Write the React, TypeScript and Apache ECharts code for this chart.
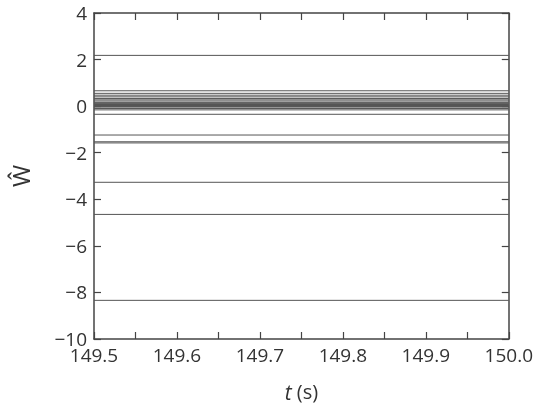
import React, { useEffect, useRef } from "react";
import * as echarts from "echarts";

const tStart = 149.5;
const tEnd = 150.0;
const yTicks = [-10, -8, -6, -4, -2, 0, 2, 4];
const wValues = [
  2.18, 0.66, 0.55, 0.47, 0.4, 0.33, 0.27, 0.22, 0.16, 0.11, 0.07, 0.05, 0.03,
  0.01, 0.0, -0.02, -0.04, -0.1, -0.16, -0.35, -1.24, -1.53, -1.58, -3.27,
  -4.65, -8.34,
];

const FONT = "Open Sans";

export default function App() {
  const ref = useRef<HTMLDivElement>(null);
  useEffect(() => {
    if (!ref.current) return;
    const chart = echarts.init(ref.current, null, { renderer: "svg" });
    const axisLine = { show: true, onZero: false, lineStyle: { color: "#444", width: 1.5 } };
    const tick = { show: true, inside: true, length: 7, lineStyle: { color: "#444", width: 1.2 } };
    const xFmt = (v: number) =>
      Math.abs(Math.round(v * 100) % 10) === 0 ? v.toFixed(1) : "";
    chart.setOption({
      animation: false,
      grid: { left: 92, right: 27, top: 13, bottom: 67, containLabel: false },
      xAxis: [
        {
          type: "value",
          min: tStart,
          max: tEnd,
          interval: 0.05,
          axisLine,
          axisTick: tick,
          splitLine: { show: false },
          axisLabel: {
            formatter: xFmt,
            color: "#333",
            fontSize: 19,
            fontFamily: FONT,
            margin: 6,
            showMinLabel: true,
            showMaxLabel: true,
          },
          name: "{i|t} (s)",
          nameLocation: "middle",
          nameGap: 42,
          nameTextStyle: {
            color: "#333",
            fontSize: 20,
            fontFamily: FONT,
            rich: { i: { fontStyle: "italic", fontSize: 21, fontFamily: FONT, color: "#333" } },
          },
        },
        {
          type: "value",
          position: "top",
          min: tStart,
          max: tEnd,
          interval: 0.05,
          axisLine,
          axisTick: tick,
          axisLabel: { show: false },
          splitLine: { show: false },
        },
      ],
      yAxis: [
        {
          type: "value",
          min: yTicks[0],
          max: yTicks[yTicks.length - 1],
          interval: 2,
          axisLine,
          axisTick: tick,
          splitLine: { show: false },
          axisLabel: {
            color: "#333",
            fontSize: 19,
            fontFamily: FONT,
            margin: 7,
            formatter: (v: number) => (v < 0 ? "\u2212" + Math.abs(v) : String(v)),
          },
          name: "\u0174",
          nameLocation: "middle",
          nameGap: 62,
          nameRotate: 90,
          nameTextStyle: { color: "#333", fontSize: 24, fontFamily: FONT },
        },
        {
          type: "value",
          position: "right",
          min: yTicks[0],
          max: yTicks[yTicks.length - 1],
          interval: 2,
          axisLine,
          axisTick: tick,
          axisLabel: { show: false },
          splitLine: { show: false },
        },
      ],
      series: wValues.map((v) => ({
        type: "line",
        data: [
          [tStart, v],
          [tEnd, v],
        ],
        symbol: "none",
        lineStyle: { color: "#555", width: 1 },
        silent: true,
      })),
    });
    return () => chart.dispose();
  }, []);
  return (
    <div
      ref={ref}
      style={{ position: "fixed", left: 0, top: 0, width: 536, height: 407 }}
    />
  );
}
